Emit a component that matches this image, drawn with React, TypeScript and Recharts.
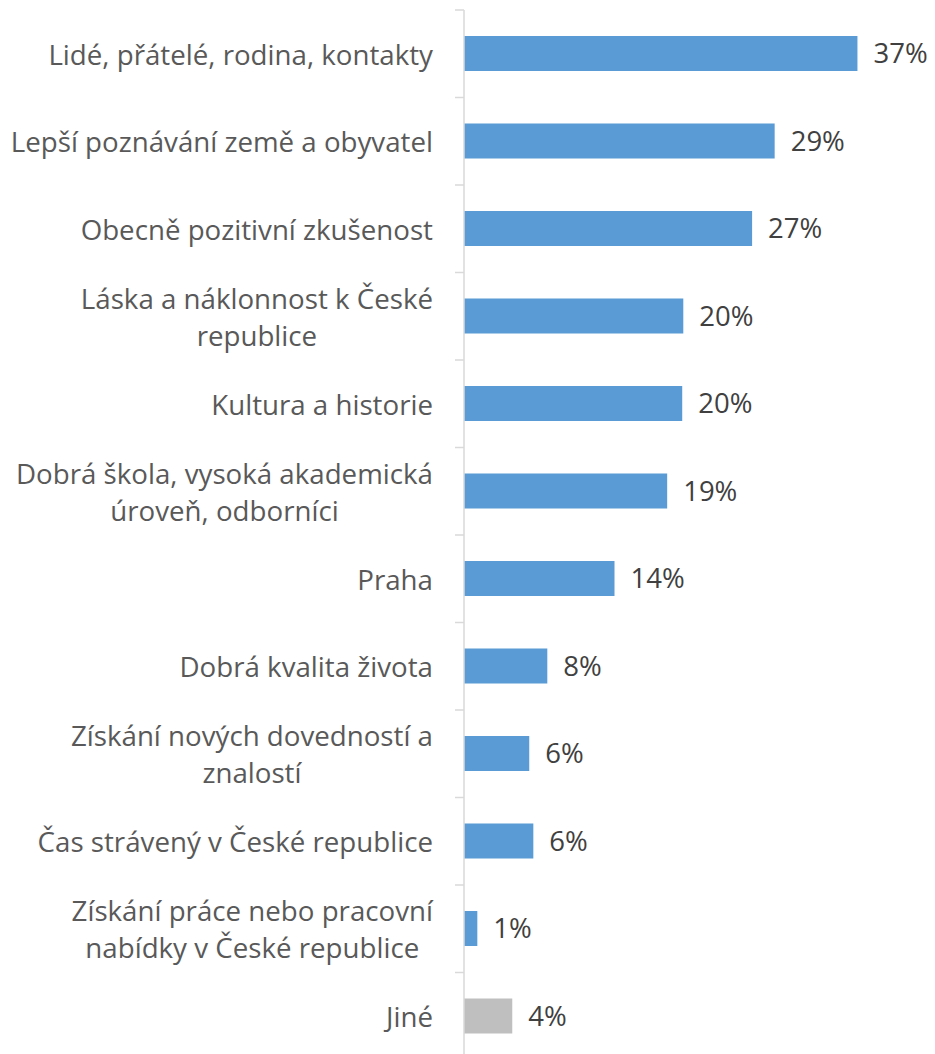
import React from 'react';
import { BarChart, Bar, XAxis, YAxis, Cell, LabelList } from 'recharts';

const categories = [
  'Lidé, přátelé, rodina, kontakty',
  'Lepší poznávání země a obyvatel',
  'Obecně pozitivní zkušenost',
  'Láska a náklonnost k České\nrepublice',
  'Kultura a historie',
  'Dobrá škola, vysoká akademická\núroveň, odborníci',
  'Praha',
  'Dobrá kvalita života',
  'Získání nových dovedností a\nznalostí',
  'Čas strávený v České republice',
  'Získání práce nebo pracovní\nnabídky v České republice',
  'Jiné',
];
const values = [36.6, 28.9, 26.8, 20.4, 20.3, 18.9, 14.0, 7.75, 6.07, 6.45, 1.24, 4.49];
const barColors = ['#5B9BD5', '#5B9BD5', '#5B9BD5', '#5B9BD5', '#5B9BD5', '#5B9BD5', '#5B9BD5', '#5B9BD5', '#5B9BD5', '#5B9BD5', '#5B9BD5', '#BFBFBF'];

const data = categories.map((name, i) => ({ name, value: values[i], color: barColors[i] }));

const FONT = '"Open Sans", sans-serif';
const FONT_SIZE = 27.7;
const LABEL_SIZE = 27.5;
const CHART_W = 935;
const CHART_H = 1060;
const MARGIN = { top: 10, right: 41, bottom: 0, left: 0 };
const Y_WIDTH = 464;
const TICK_SIZE = 9;
const TICK_MARGIN = 22;
const BAND = (CHART_H - MARGIN.top - MARGIN.bottom) / categories.length;
const LINE_H = 37;

let ctx: CanvasRenderingContext2D | null = null;
function measure(text: string) {
  if (!ctx) ctx = document.createElement('canvas').getContext('2d');
  if (!ctx) return text.length * FONT_SIZE * 0.5;
  ctx.font = `${FONT_SIZE}px ${FONT}`;
  return ctx.measureText(text).width;
}

function CategoryTick(props: any) {
  const { x, y, payload, index } = props;
  const lines: string[] = String(payload.value).split('\n');
  const maxW = Math.max(...lines.map(measure));
  const cx = x - maxW / 2;
  const axisX = x + TICK_MARGIN + TICK_SIZE;
  const last = index === categories.length - 1;
  return (
    <g>
      <line x1={axisX - TICK_SIZE} x2={axisX} y1={y - BAND / 2} y2={y - BAND / 2} stroke="#D9D9D9" strokeWidth={1.5} />
      {last && (
        <line x1={axisX - TICK_SIZE} x2={axisX} y1={y + BAND / 2} y2={y + BAND / 2} stroke="#D9D9D9" strokeWidth={1.5} />
      )}
      {lines.map((ln, i) => (
        <text
          key={i}
          x={lines.length > 1 ? cx : x}
          y={y + (i - (lines.length - 1) / 2) * LINE_H}
          textAnchor={lines.length > 1 ? 'middle' : 'end'}
          dominantBaseline="central"
          fill="#595959"
          fontSize={FONT_SIZE}
          fontFamily={FONT}
        >
          {ln}
        </text>
      ))}
    </g>
  );
}

export default function App() {
  return (
    <div style={{ position: 'absolute', left: 0, top: 0, width: CHART_W, height: 1054, overflow: 'hidden', background: '#fff' }}>
      <BarChart width={CHART_W} height={CHART_H} data={data} layout="vertical" margin={MARGIN} barSize={35}>
        <XAxis type="number" domain={[0, 40]} hide />
        <YAxis
          type="category"
          dataKey="name"
          width={Y_WIDTH}
          tickSize={TICK_SIZE}
          tickMargin={TICK_MARGIN}
          tickLine={false}
          axisLine={{ stroke: '#D9D9D9', strokeWidth: 1.5 }}
          tick={<CategoryTick />}
          interval={0}
        />
        <Bar dataKey="value" isAnimationActive={false}>
          {data.map((d, i) => (
            <Cell key={`cell-${i}`} fill={d.color} />
          ))}
          <LabelList
            dataKey="value"
            position="right"
            offset={16}
            formatter={(v: any) => `${Math.round(Number(v))}%`}
            fill="#404040"
            fontSize={LABEL_SIZE}
            fontFamily={FONT}
          />
        </Bar>
      </BarChart>
    </div>
  );
}
